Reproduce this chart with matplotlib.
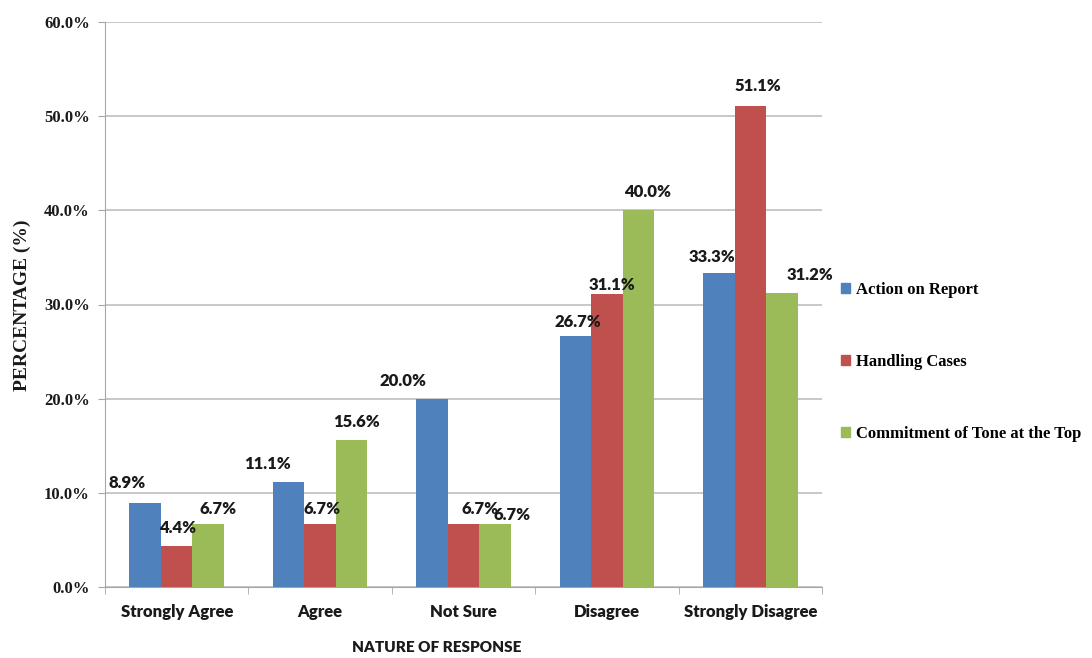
import matplotlib
matplotlib.use("Agg")
import matplotlib.pyplot as plt
import numpy as np
from matplotlib.patches import Patch

categories = ["Strongly Agree", "Agree", "Not Sure", "Disagree", "Strongly Disagree"]
series_names = ["Action on Report", "Handling Cases", "Commitment of Tone at the Top"]
action_on_report = [8.9, 11.1, 20.0, 26.7, 33.3]
handling_cases = [4.4, 6.7, 6.7, 31.1, 51.1]
tone_at_top = [6.7, 15.6, 6.7, 40.0, 31.2]
y_ticks = [0, 10, 20, 30, 40, 50, 60]

colors = ["#4F81BD", "#C0504D", "#9BBB59"]

# label nudges (pixels) per series, per category
label_dx = [[-18, -21, -29, 3, -7], [1, 2, 17, 5, 8], [10, 5, 17, 9, 28]]
label_dy = [[20, 18, 18, 14, 16], [18, 15, 15, 9, 20], [15, 18, 9, 18, 18]]

W, H = 1092, 658
fig = plt.figure(figsize=(W / 100, H / 100), dpi=100)
ax = fig.add_axes([105 / W, 1 - 587 / H, 717 / W, 565 / H])

sans = ["Lato", "DejaVu Sans"]
serif = ["Liberation Serif", "DejaVu Serif"]

x = np.arange(len(categories))
bw = 0.22
data = [action_on_report, handling_cases, tone_at_top]
for k, vals in enumerate(data):
    bars = ax.bar(x + (k - 1) * bw, vals, width=bw, color=colors[k], zorder=3)
    for j, (b, v) in enumerate(zip(bars, vals)):
        ax.annotate(f"{v:.1f}%", (b.get_x() + b.get_width() / 2, v),
                    xytext=(label_dx[k][j], label_dy[k][j]),
                    textcoords="offset pixels", ha="center", va="center",
                    fontsize=12, fontweight="heavy", family=sans, color="#1a1a1a",
                    zorder=5)

ax.set_xlim(-0.5, len(categories) - 0.5)
ax.set_ylim(0, 60)
ax.set_yticks(y_ticks)
ax.set_yticklabels([f"{t:.1f}%" for t in y_ticks], family=serif,
                   fontweight="bold", fontsize=12, color="#1a1a1a")
ax.set_xticks(x)
ax.set_xticklabels(categories, family=sans, fontweight="heavy", fontsize=12,
                   color="#1a1a1a")
ax.tick_params(axis="x", length=0, pad=12)
ax.set_xticks(np.arange(-0.5, len(categories), 1), minor=True)
ax.tick_params(axis="x", which="minor", length=5, color="#a6a6a6", direction="out")
ax.tick_params(axis="y", length=5, color="#a6a6a6", pad=6)

ax.yaxis.grid(True, color="#bfbfbf", linewidth=1.2, zorder=0)
ax.set_axisbelow(True)
for s in ["top", "right"]:
    ax.spines[s].set_visible(False)
ax.spines["left"].set_color("#a6a6a6")
ax.spines["bottom"].set_color("#a6a6a6")

fig.text(22 / W, 1 - 305 / H, "PERCENTAGE (%)", rotation=90, ha="center",
         va="center", family=serif, fontweight="bold", fontsize=14, color="#1a1a1a")
fig.text(437 / W, 1 - 648 / H, "NATURE OF RESPONSE", ha="center", va="center",
         family=sans, fontweight="heavy", fontsize=11, color="#1a1a1a")

handles = [Patch(color=c) for c in colors]
fig.legend(handles, series_names, loc="center left",
           bbox_to_anchor=(834 / W, 1 - 362 / H), frameon=False,
           prop={"family": serif, "weight": "bold", "size": 12},
           handlelength=0.55, handleheight=0.55, handletextpad=0.4,
           labelspacing=3.35, borderaxespad=0)

fig.savefig("out.png", dpi=100)
